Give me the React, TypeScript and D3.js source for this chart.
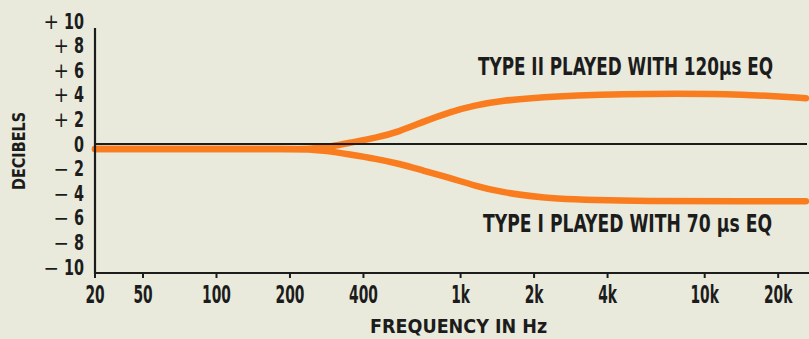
import React, { useLayoutEffect, useRef } from "react";
import * as d3 from "d3";

const FREQS = [20, 50, 100, 200, 240, 280, 350, 450, 560, 700, 900, 1150, 1450, 2300, 6000, 15000, 26000];
const TYPE_II = [-0.4, -0.4, -0.4, -0.4, -0.4, -0.3, 0.1, 0.5, 1.0, 1.8, 2.6, 3.15, 3.5, 3.9, 4.12, 4.05, 3.72];
const TYPE_I = [-0.4, -0.4, -0.4, -0.4, -0.42, -0.55, -0.85, -1.2, -1.6, -2.15, -2.75, -3.4, -3.9, -4.5, -4.65, -4.65, -4.65];

const X_TICKS = [20, 50, 100, 200, 400, 1000, 2000, 4000, 10000, 20000];
const X_TICK_LABELS = ["20", "50", "100", "200", "400", "1k", "2k", "4k", "10k", "20k"];
const Y_TICKS = [10, 8, 6, 4, 2, 0, -2, -4, -6, -8, -10];

const LABEL_II = "TYPE II PLAYED WITH 120\u00b5s EQ";
const LABEL_I = "TYPE I PLAYED WITH 70 \u00b5s EQ";
const X_TITLE = "FREQUENCY IN Hz";
const Y_TITLE = "DECIBELS";

const W = 809;
const H = 339;
const BG = "#e9eadb";
const ORANGE = "#f97d1f";
const INK = "#1c1c1c";
const FONT = "'DejaVu Sans Condensed', 'DejaVu Sans', sans-serif";

export default function App() {
  const svgRef = useRef<SVGSVGElement | null>(null);
  const x = d3.scaleLog().domain([20, 50, 26000]).range([95, 143, 806]);
  const y = d3.scaleLinear().domain([-10, 10]).range([267, 21]);

  const line = d3
    .line<number>()
    .x((_, i) => x(FREQS[i]))
    .y((d) => y(d))
    .curve(d3.curveBasis);

  const axisY = 273;
  const axisX = 95;

  useLayoutEffect(() => {
    if (!svgRef.current) return;
    d3.select(svgRef.current)
      .selectAll<SVGTextElement, unknown>("text[data-fit]")
      .each(function () {
        const el = this as SVGTextElement;
        const target = +(el.getAttribute("data-fit") || 0);
        const base = el.getAttribute("data-base") || "";
        const natural = el.getComputedTextLength();
        if (natural > 0) {
          el.setAttribute("transform", `${base} scale(${target / natural},1)`);
        }
      });
  }, []);

  return (
    <svg
      ref={svgRef}
      width={W}
      height={H}
      style={{ position: "absolute", left: 0, top: 0, background: BG }}
    >
      <rect x={0} y={0} width={W} height={H} fill={BG} />
      <path d={line(TYPE_I) || ""} fill="none" stroke={ORANGE} strokeWidth={6.5} strokeLinecap="round" />
      <path d={line(TYPE_II) || ""} fill="none" stroke={ORANGE} strokeWidth={6.5} strokeLinecap="round" />
      <line x1={axisX} x2={807} y1={y(0)} y2={y(0)} stroke={INK} strokeWidth={2} />
      <line x1={axisX} x2={axisX} y1={28} y2={axisY + 1} stroke={INK} strokeWidth={2.2} />
      <line x1={axisX - 1} x2={W} y1={axisY} y2={axisY} stroke={INK} strokeWidth={2.2} />
      {X_TICKS.map((t, i) => (
        <g key={t}>
          <line x1={x(t)} x2={x(t)} y1={axisY} y2={axisY + 5} stroke={INK} strokeWidth={2} />
          <text
            transform={`translate(${x(t)},${303}) scale(0.64,1)`}
            textAnchor="middle"
            fontFamily={FONT}
            fontWeight="bold"
            fontSize={24}
            fill={INK}
          >
            {X_TICK_LABELS[i]}
          </text>
        </g>
      ))}
      {Y_TICKS.map((t) => {
        const num = String(Math.abs(t));
        const sign = t > 0 ? "+" : t < 0 ? "\u2212" : "";
        const numW = num.length * 10;
        return (
          <g key={t}>
            <text
              transform={`translate(84,${y(t) + 7.5}) scale(0.78,1)`}
              textAnchor="end"
              fontFamily={FONT}
              fontWeight="bold"
              fontSize={20.5}
              fill={INK}
            >
              {num}
            </text>
            {sign && (
              <text
                transform={`translate(${84 - numW - 5},${y(t) + 7.5})`}
                textAnchor="end"
                fontFamily={FONT}
                fontSize={20.5}
                fill={INK}
              >
                {sign}
              </text>
            )}
          </g>
        );
      })}
      <text
        data-fit={295}
        data-base="translate(478,75)"
        transform="translate(478,75) scale(0.8,1)"
        fontFamily={FONT}
        fontWeight="bold"
        fontSize={24}
        fill={INK}
      >
        {LABEL_II}
      </text>
      <text
        data-fit={289}
        data-base="translate(483,232)"
        transform="translate(483,232) scale(0.8,1)"
        fontFamily={FONT}
        fontWeight="bold"
        fontSize={24}
        fill={INK}
      >
        {LABEL_I}
      </text>
      <text
        data-fit={177}
        data-base="translate(370,333)"
        transform="translate(370,333) scale(0.8,1)"
        fontFamily={FONT}
        fontWeight="bold"
        fontSize={19}
        fill={INK}
      >
        {X_TITLE}
      </text>
      <text
        data-fit={78}
        data-base="translate(25,190) rotate(-90)"
        transform="translate(25,190) rotate(-90) scale(0.8,1)"
        fontFamily={FONT}
        fontWeight="bold"
        fontSize={17}
        fill={INK}
      >
        {Y_TITLE}
      </text>
    </svg>
  );
}
